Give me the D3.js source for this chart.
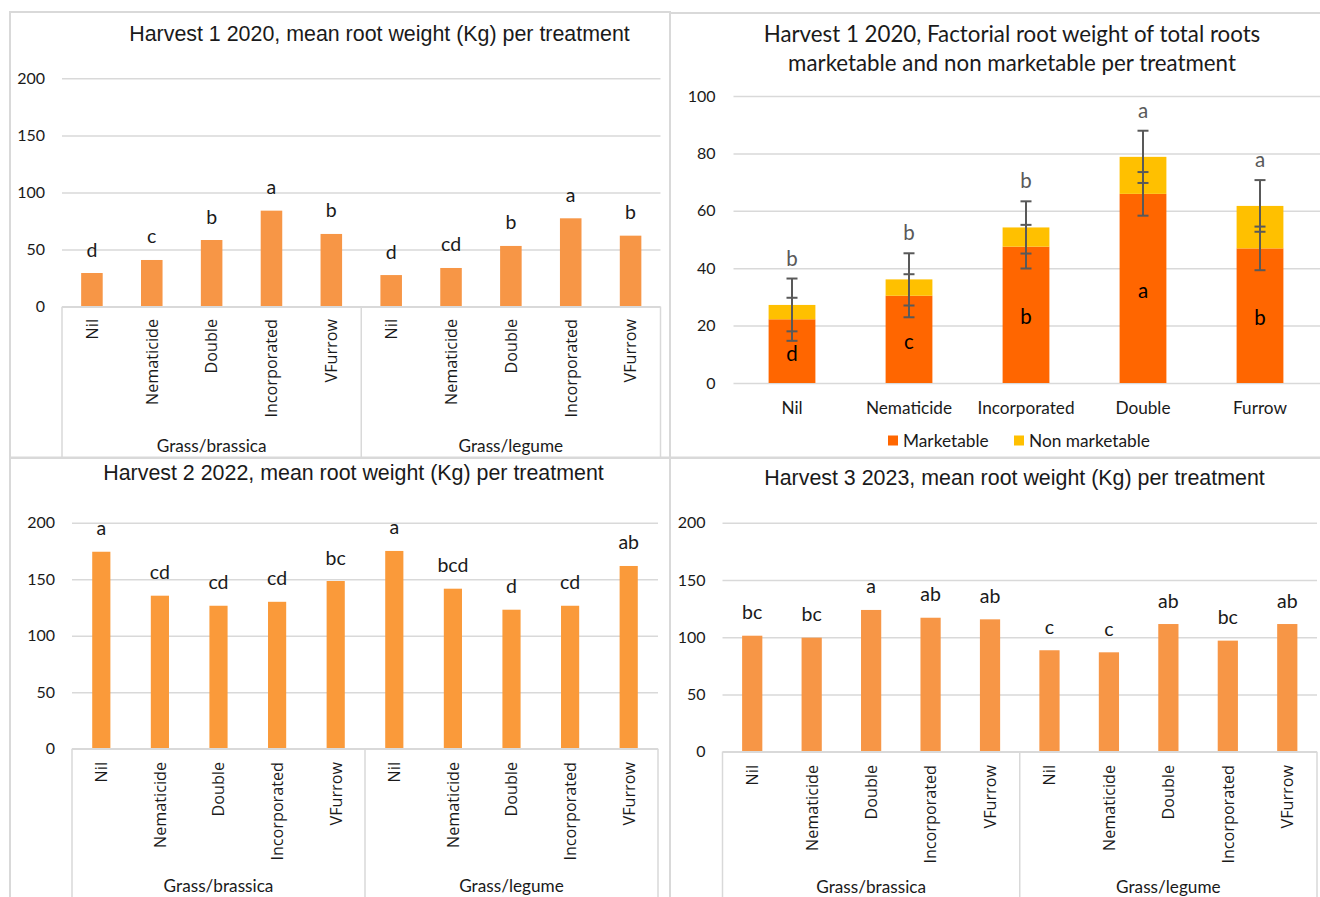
<!DOCTYPE html>
<html>
<head>
<meta charset="utf-8">
<script src="https://cdn.jsdelivr.net/npm/d3@7"></script>
<style>
  html, body { margin: 0; padding: 0; background: #fff; }
  svg { display: block; }
</style>
</head>
<body>
<svg id="chart" width="1320" height="897"></svg>
<script>
// ---- Data -------------------------------------------------------------
const treatments = ["Nil", "Nematicide", "Double", "Incorporated", "VFurrow"];
const rotations = ["Grass/brassica", "Grass/legume"];
const weightTicks = [0, 50, 100, 150, 200];

// Harvest 1 2020 mean root weight (Kg), brassica treatments then legume treatments
const harvest1Means = [29.5, 40.9, 58.4, 84.1, 63.7, 27.7, 33.9, 53.2, 77.4, 62.2];
const harvest1Letters = ["d", "c", "b", "a", "b", "d", "cd", "b", "a", "b"];

// Harvest 2 2022
const harvest2Means = [174.3, 135.4, 126.5, 130.0, 148.4, 175.0, 141.6, 123.0, 126.5, 161.7];
const harvest2Letters = ["a", "cd", "cd", "cd", "bc", "a", "bcd", "d", "cd", "ab"];

// Harvest 3 2023
const harvest3Means = [101.3, 99.6, 123.8, 117.0, 115.6, 88.6, 86.8, 111.5, 97.0, 111.5];
const harvest3Letters = ["bc", "bc", "a", "ab", "ab", "c", "c", "ab", "bc", "ab"];

// Harvest 1 2020 factorial: marketable and non marketable roots
const factorialTreatments = ["Nil", "Nematicide", "Incorporated", "Double", "Furrow"];
const marketable = [22.2, 30.4, 47.5, 65.9, 46.9];
const nonMarketable = [5.0, 5.7, 6.7, 12.9, 14.8];
const marketableErr = [7.5, 7.5, 7.6, 7.6, 7.6];
const totalErr = [9.2, 9.1, 9.1, 9.1, 9.0];
const marketableLetters = ["d", "c", "b", "a", "b"];
const totalLetters = ["b", "b", "b", "a", "a"];
const factorialTicks = [0, 20, 40, 60, 80, 100];
const factorialSeries = ["Marketable", "Non marketable"];

// ---- Styling ----------------------------------------------------------
const ARIAL = "'Liberation Sans', Arial, sans-serif";
const CAL = "Lato, 'Open Sans', sans-serif";
const ROT = "'Open Sans', 'DejaVu Sans', sans-serif";
const GRID = "#d9d9d9";
const TEXT = "#1a1a1a";

const svg = d3.select("#chart");

// Chart-area frames
const frames = [
  { x: 10, y: 12, w: 660, h: 445.5 },
  { x: 670, y: 13, w: 660, h: 444.5 },
  { x: 10, y: 458, w: 660, h: 450 },
  { x: 670, y: 458, w: 660, h: 450 }
];
svg.selectAll("rect.frame").data(frames).join("rect")
  .attr("class", "frame")
  .attr("x", d => d.x).attr("y", d => d.y)
  .attr("width", d => d.w).attr("height", d => d.h)
  .attr("fill", "none").attr("stroke", GRID).attr("stroke-width", 2);

// ---- Grouped single-series panels ------------------------------------
function groupedPanel(opt) {
  const g = svg.append("g");
  const cats = [];
  rotations.forEach(r => treatments.forEach(t => cats.push(r + "|" + t)));

  const x = d3.scaleBand().domain(cats).range([opt.x0, opt.x1]).paddingInner(0).paddingOuter(0);
  const y = d3.scaleLinear().domain([0, 200]).range([opt.yBase, opt.yTop]);
  const bw = x.bandwidth() * opt.barFrac;

  // title
  g.append("text").attr("x", opt.titleX).attr("y", opt.titleY)
    .attr("text-anchor", "middle").attr("dominant-baseline", "central")
    .style("font-family", ARIAL).style("font-size", "21.4px").attr("fill", TEXT)
    .text(opt.title);

  // gridlines + y labels
  const yAxis = d3.axisLeft(y).tickValues(weightTicks).tickSize(-(opt.x1 - opt.x0)).tickPadding(17);
  const ya = g.append("g").attr("transform", `translate(${opt.x0},0)`).call(yAxis);
  ya.select(".domain").remove();
  ya.selectAll(".tick line").attr("stroke", GRID).attr("stroke-width", 1.5);
  ya.selectAll(".tick text").style("font-family", CAL).style("font-size", "16px").attr("fill", TEXT);

  // bars
  const values = opt.values;
  g.selectAll("rect.bar").data(values).join("rect")
    .attr("class", "bar")
    .attr("x", (d, i) => x(cats[i]) + (x.bandwidth() - bw) / 2)
    .attr("y", d => y(d))
    .attr("width", bw)
    .attr("height", d => y(0) - y(d))
    .attr("fill", opt.color);

  // significance letters
  g.selectAll("text.sig").data(opt.letters).join("text")
    .attr("class", "sig")
    .attr("x", (d, i) => x(cats[i]) + x.bandwidth() / 2)
    .attr("y", (d, i) => y(values[i]) - 24)
    .attr("text-anchor", "middle").attr("dominant-baseline", "central")
    .style("font-family", CAL).style("font-size", "19.5px").attr("fill", TEXT)
    .text(d => d);

  // category axis line
  g.append("line").attr("x1", opt.x0).attr("x2", opt.x1)
    .attr("y1", y(0)).attr("y2", y(0)).attr("stroke", GRID).attr("stroke-width", 1.5);

  // group separators
  const sep = [opt.x0, x(cats[5]), opt.x1];
  g.selectAll("line.sep").data(sep).join("line")
    .attr("class", "sep")
    .attr("x1", d => d).attr("x2", d => d)
    .attr("y1", y(0)).attr("y2", opt.sepBottom)
    .attr("stroke", GRID).attr("stroke-width", 1.5);

  // rotated treatment labels
  g.selectAll("text.cat").data(cats).join("text")
    .attr("class", "cat")
    .attr("transform", d => `translate(${x(d) + x.bandwidth() / 2},${opt.catTop}) rotate(-90)`)
    .attr("text-anchor", "end").attr("dy", "0.36em")
    .style("font-family", ROT).style("font-size", "16.2px").attr("fill", TEXT)
    .text(d => d.split("|")[1]);

  // rotation (group) labels
  g.selectAll("text.grp").data(rotations).join("text")
    .attr("class", "grp")
    .attr("x", (d, i) => (sep[i] + sep[i + 1]) / 2)
    .attr("y", opt.groupY)
    .attr("text-anchor", "middle").attr("dominant-baseline", "central")
    .style("font-family", CAL).style("font-size", "17.2px").attr("fill", TEXT)
    .text(d => d);
}

groupedPanel({
  title: "Harvest 1 2020, mean root weight (Kg) per treatment",
  titleX: 379.5, titleY: 34,
  x0: 62, x1: 660.5, yBase: 306.7, yTop: 78.3,
  barFrac: 0.36, color: "#f79646",
  values: harvest1Means, letters: harvest1Letters,
  catTop: 319, groupY: 445, sepBottom: 457
});

groupedPanel({
  title: "Harvest 2 2022, mean root weight (Kg) per treatment",
  titleX: 353.5, titleY: 473,
  x0: 72, x1: 658, yBase: 748.7, yTop: 522.7,
  barFrac: 0.31, color: "#fa9a3a",
  values: harvest2Means, letters: harvest2Letters,
  catTop: 762, groupY: 885.5, sepBottom: 897
});

groupedPanel({
  title: "Harvest 3 2023, mean root weight (Kg) per treatment",
  titleX: 1014.5, titleY: 478,
  x0: 722.5, x1: 1317, yBase: 751.7, yTop: 522.7,
  barFrac: 0.34, color: "#f79646",
  values: harvest3Means, letters: harvest3Letters,
  catTop: 765, groupY: 886, sepBottom: 897
});

// ---- Factorial stacked panel -----------------------------------------
(function factorialPanel() {
  const g = svg.append("g");
  const x0 = 733.5, x1 = 1318.5;
  const x = d3.scaleBand().domain(factorialTreatments).range([x0, x1]);
  const y = d3.scaleLinear().domain([0, 100]).range([383, 96]);
  const color = d3.scaleOrdinal().domain(factorialSeries).range(["#ff6600", "#ffc000"]);
  const bw = x.bandwidth() * 0.4;

  // title (two lines)
  const t = g.append("text").attr("text-anchor", "middle")
    .style("font-family", CAL).style("font-size", "22.3px").attr("fill", TEXT);
  t.append("tspan").attr("x", 1012).attr("y", 33).attr("dominant-baseline", "central")
    .text("Harvest 1 2020, Factorial root weight of total roots");
  t.append("tspan").attr("x", 1012).attr("y", 62).attr("dominant-baseline", "central")
    .text("marketable and non marketable per treatment");

  // gridlines + y labels
  const ya = g.append("g").attr("transform", `translate(${x0},0)`)
    .call(d3.axisLeft(y).tickValues(factorialTicks).tickSize(-(x1 - x0 + 5)).tickPadding(18));
  ya.select(".domain").remove();
  ya.selectAll(".tick line").attr("stroke", GRID).attr("stroke-width", 1.5);
  ya.selectAll(".tick text").style("font-family", CAL).style("font-size", "16px").attr("fill", TEXT);

  // stacked bars
  const rows = factorialTreatments.map((c, i) => ({
    cat: c, "Marketable": marketable[i], "Non marketable": nonMarketable[i]
  }));
  const stacked = d3.stack().keys(factorialSeries)(rows);
  g.selectAll("g.layer").data(stacked).join("g")
    .attr("class", "layer").attr("fill", d => color(d.key))
    .selectAll("rect").data(d => d).join("rect")
    .attr("x", d => x(d.data.cat) + (x.bandwidth() - bw) / 2)
    .attr("y", d => y(d[1]))
    .attr("width", bw)
    .attr("height", d => y(d[0]) - y(d[1]));

  // error bars: marketable and total
  const errs = [];
  factorialTreatments.forEach((c, i) => {
    errs.push({ cat: c, v: marketable[i], e: marketableErr[i] });
    errs.push({ cat: c, v: marketable[i] + nonMarketable[i], e: totalErr[i] });
  });
  const eg = g.append("g").attr("stroke", "#595959").attr("stroke-width", 2).attr("fill", "none");
  errs.forEach(d => {
    const cx = x(d.cat) + x.bandwidth() / 2;
    eg.append("line").attr("x1", cx).attr("x2", cx).attr("y1", y(d.v - d.e)).attr("y2", y(d.v + d.e));
    [d.v - d.e, d.v + d.e].forEach(v => {
      eg.append("line").attr("x1", cx - 5.5).attr("x2", cx + 5.5).attr("y1", y(v)).attr("y2", y(v));
    });
  });

  // letters: total on top, marketable inside
  g.selectAll("text.tot").data(totalLetters).join("text")
    .attr("class", "tot")
    .attr("x", (d, i) => x(factorialTreatments[i]) + x.bandwidth() / 2)
    .attr("y", (d, i) => y(marketable[i] + nonMarketable[i] + totalErr[i]) - 21)
    .attr("text-anchor", "middle").attr("dominant-baseline", "central")
    .style("font-family", CAL).style("font-size", "20.5px").attr("fill", "#595959")
    .text(d => d);
  g.selectAll("text.mk").data(marketableLetters).join("text")
    .attr("class", "mk")
    .attr("x", (d, i) => x(factorialTreatments[i]) + x.bandwidth() / 2)
    .attr("y", (d, i) => y(marketable[i] / 2) + 1.5)
    .attr("text-anchor", "middle").attr("dominant-baseline", "central")
    .style("font-family", CAL).style("font-size", "20.5px").attr("fill", "#000")
    .text(d => d);

  // category labels
  g.selectAll("text.cat").data(factorialTreatments).join("text")
    .attr("class", "cat")
    .attr("x", d => x(d) + x.bandwidth() / 2).attr("y", 407)
    .attr("text-anchor", "middle").attr("dominant-baseline", "central")
    .style("font-family", CAL).style("font-size", "17.2px").attr("fill", TEXT)
    .text(d => d);

  // legend
  const lg = g.append("g").attr("transform", "translate(888,440.5)");
  let lx = 0;
  factorialSeries.forEach(k => {
    const item = lg.append("g").attr("transform", `translate(${lx},0)`);
    item.append("rect").attr("x", 0).attr("y", -5).attr("width", 10).attr("height", 10).attr("fill", color(k));
    item.append("text").attr("x", 15).attr("y", 0).attr("dominant-baseline", "central")
      .style("font-family", CAL).style("font-size", "17.3px").attr("fill", TEXT).text(k);
    lx = 126;
  });
})();
</script>
</body>
</html>
